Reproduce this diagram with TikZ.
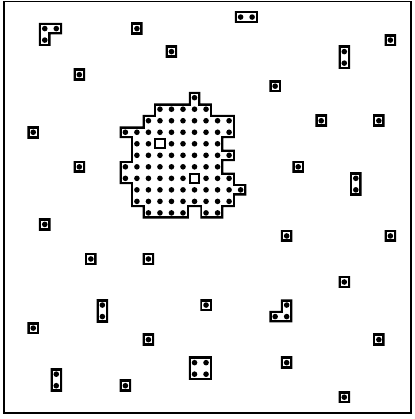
\documentclass[tikz,border=0pt]{standalone}
\newcommand\outl[1]{\begin{scope}\clip #1;\draw[boxline] #1;\end{scope}}
\newcommand\sgl[2]{\outl{(#1-0.5,#2-0.5) rectangle (#1+0.5,#2+0.5)}\fill[dotst] (#1,#2) circle (2.8pt);}
\tikzset{boxline/.style={draw=black,line width=4.4pt,miter limit=10},
  dotst/.style={fill=black},
  frame/.style={draw=black,line width=1.6pt},
  holebox/.style={draw=black,line width=2.1pt}}
\begin{document}
\begin{tikzpicture}[x=11.52pt,y=-11.52pt]
\useasboundingbox (-125.4pt,97.7pt) rectangle (288.6pt,-321.3pt);
\fill[white] (-125.4pt,97.7pt) rectangle (288.6pt,-321.3pt);
\draw[frame] (-121.4pt,96.3pt) rectangle (285.6pt,-315.3pt);
% big cluster
\outl{(5.5,-0.5) -- (6.5,-0.5) -- (6.5,0.5) -- (7.5,0.5) -- (7.5,1.5) -- (9.5,1.5) -- (9.5,3.5) -- (8.5,3.5) -- (8.5,4.5) -- (9.5,4.5) -- (9.5,5.5) -- (8.5,5.5) -- (8.5,6.5) -- (9.5,6.5) -- (9.5,7.5) -- (10.5,7.5) -- (10.5,8.5) -- (9.5,8.5) -- (9.5,9.5) -- (8.5,9.5) -- (8.5,10.5) -- (6.5,10.5) -- (6.5,9.5) -- (5.5,9.5) -- (5.5,10.5) -- (1.5,10.5) -- (1.5,9.5) -- (0.5,9.5) -- (0.5,7.5) -- (-0.5,7.5) -- (-0.5,5.5) -- (0.5,5.5) -- (0.5,3.5) -- (-0.5,3.5) -- (-0.5,2.5) -- (1.5,2.5) -- (1.5,1.5) -- (2.5,1.5) -- (2.5,0.5) -- (5.5,0.5) -- cycle}
\foreach \r/\a/\b in {0/6/6,1/3/7,2/2/9,3/0/9,4/1/2,4/4/8,5/1/9,6/0/8,7/0/5,7/7/9,8/1/10,9/1/9,10/2/5,10/7/8}
  {\foreach \c in {\a,...,\b}{\fill[dotst] (\c,\r) circle (2.8pt);}}
\draw[holebox] (2.6,3.6) rectangle (3.4,4.4);
\draw[holebox] (5.6,6.6) rectangle (6.4,7.4);
% L trominoes
\outl{(-7.5,-6.5) -- (-5.5,-6.5) -- (-5.5,-5.5) -- (-6.5,-5.5) -- (-6.5,-4.5) -- (-7.5,-4.5) -- cycle}
\foreach \c/\r in {-7/-6,-6/-6,-7/-5}{\fill[dotst] (\c,\r) circle (2.8pt);}
\outl{(13.5,17.5) -- (14.5,17.5) -- (14.5,19.5) -- (12.5,19.5) -- (12.5,18.5) -- (13.5,18.5) -- cycle}
\foreach \c/\r in {14/18,13/19,14/19}{\fill[dotst] (\c,\r) circle (2.8pt);}
% dominoes and square
\outl{(9.5,-7.5) rectangle (11.5,-6.5)}
\outl{(18.5,-4.5) rectangle (19.5,-2.5)}
\outl{(19.5,6.5) rectangle (20.5,8.5)}
\outl{(-2.5,17.5) rectangle (-1.5,19.5)}
\outl{(-6.5,23.5) rectangle (-5.5,25.5)}
\outl{(5.5,22.5) rectangle (7.5,24.5)}
\foreach \c/\r in {10/-7,11/-7,19/-4,19/-3,20/7,20/8,-2/18,-2/19,-6/24,-6/25,6/23,7/23,6/24,7/24}{\fill[dotst] (\c,\r) circle (2.8pt);}
% singles
\sgl{1}{-6}\sgl{4}{-4}\sgl{-4}{-2}\sgl{-8}{3}\sgl{-4}{6}
\sgl{23}{-5}\sgl{13}{-1}\sgl{17}{2}\sgl{22}{2}\sgl{15}{6}
\sgl{-7}{11}\sgl{-3}{14}\sgl{2}{14}\sgl{7}{18}\sgl{-8}{20}
\sgl{2}{21}\sgl{0}{25}\sgl{14}{12}\sgl{23}{12}\sgl{19}{16}
\sgl{22}{21}\sgl{14}{23}\sgl{19}{26}
\end{tikzpicture}
\end{document}
